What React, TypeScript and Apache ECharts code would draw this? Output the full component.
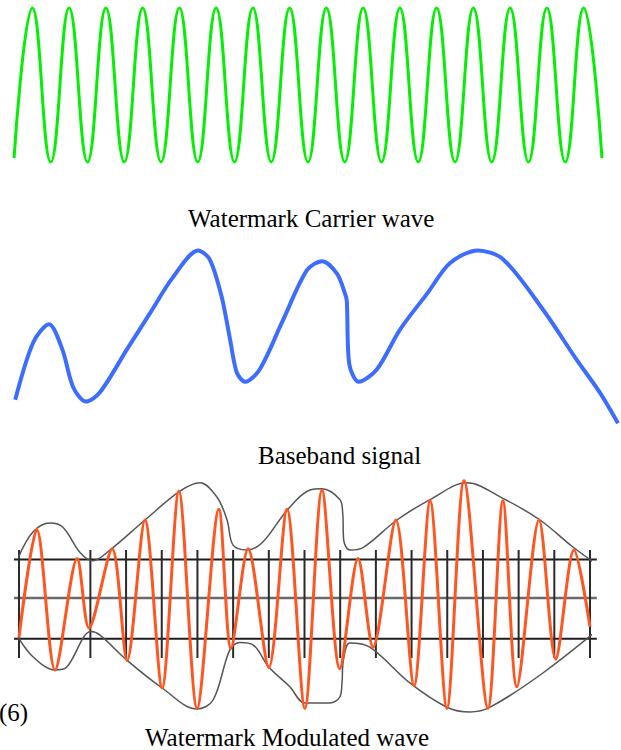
import React, { useEffect, useRef } from 'react';
import * as echarts from 'echarts';

// Carrier wave: extremes per half cycle (time in cycles, amplitude -1..1)
const carrierT = [0, 0.5, 1, 1.5, 2, 2.5, 3, 3.5, 4, 4.5, 5, 5.5, 6, 6.5, 7, 7.5, 8, 8.5, 9, 9.5, 10, 10.5, 11, 11.5, 12, 12.5, 13, 13.5, 14, 14.5, 15, 15.5, 16];
const carrierV = [-0.95, 1, -1, 1, -1, 1, -1, 1, -1, 1, -1, 1, -1, 1, -1, 1, -1, 1, -1, 1, -1, 1, -1, 1, -1, 1, -1, 1, -1, 1, -1, 1, -0.95];

// Baseband signal (time 0..100, amplitude 0..1)
const baseT = [0.2, 3.2, 5.8, 8.0, 9.8, 11.9, 14.2, 18.7, 22.5, 26.3, 30.5, 32.4, 34.4, 35.8, 36.9, 38.3, 40.7, 44.5, 48.5, 51.0, 53.5, 54.8, 55.1, 55.5, 57.1, 60.1, 63.9, 68.4, 72.2, 76.8, 81.0, 87.6, 93.2, 97.0, 100];
const baseV = [0.14, 0.46, 0.56, 0.42, 0.21, 0.13, 0.18, 0.42, 0.62, 0.82, 0.97, 0.92, 0.71, 0.47, 0.29, 0.24, 0.31, 0.58, 0.86, 0.91, 0.84, 0.73, 0.69, 0.34, 0.24, 0.31, 0.53, 0.73, 0.9, 0.97, 0.92, 0.64, 0.36, 0.18, 0.01];

// Modulated wave (time in carrier cycles, amplitude -1..1)
const modT = [0, 0.5, 1.01, 1.63, 1.96, 2.61, 3.03, 3.53, 4.01, 4.48, 4.99, 5.6, 5.94, 6.42, 7.0, 7.51, 8.01, 8.49, 8.99, 9.5, 9.92, 10.56, 11.07, 11.52, 11.99, 12.47, 13.14, 13.56, 13.95, 14.57, 15.04, 15.55, 16.0];
const modV = [-0.33, 0.57, -0.6, 0.33, -0.25, 0.41, -0.52, 0.65, -0.75, 0.89, -0.92, 0.74, -0.42, 0.41, -0.58, 0.74, -0.92, 0.9, -0.59, 0.33, -0.41, 0.65, -0.73, 0.81, -0.92, 0.98, -0.92, 0.81, -0.74, 0.65, -0.51, 0.4, -0.24];

// Envelopes
const upperT = [-0.03, 0.39, 0.87, 1.23, 1.71, 2.07, 2.55, 3.53, 4.51, 5.07, 5.55, 5.83, 6.0, 6.39, 6.81, 7.51, 8.15, 8.49, 8.99, 9.07, 9.1, 9.27, 9.64, 10.59, 11.52, 12.55, 13.56, 14.6, 15.52, 16.48];
const upperV = [0.33, 0.55, 0.625, 0.59, 0.38, 0.31, 0.4, 0.65, 0.89, 0.96, 0.84, 0.65, 0.44, 0.4, 0.46, 0.73, 0.9, 0.91, 0.82, 0.71, 0.48, 0.4, 0.42, 0.65, 0.82, 0.96, 0.83, 0.65, 0.425, 0.22];
const lowerT = [-0.03, 0.39, 1.01, 1.34, 2.02, 2.27, 3.03, 4.01, 4.99, 5.44, 5.91, 6.19, 6.56, 7.0, 7.59, 8.01, 8.71, 8.99, 9.05, 9.09, 9.27, 9.83, 10.96, 11.99, 12.64, 13.2, 14.68, 16.48];
const lowerV = [-0.325, -0.49, -0.6, -0.575, -0.28, -0.31, -0.52, -0.75, -0.925, -0.85, -0.43, -0.37, -0.39, -0.575, -0.74, -0.875, -0.875, -0.825, -0.71, -0.52, -0.375, -0.41, -0.71, -0.91, -0.95, -0.91, -0.625, -0.2];

// Reference grid of the modulated panel
const tickT = [0, 2, 3, 4, 5, 6, 7, 8, 9, 10, 11, 12, 13, 14, 15, 16];
const tickTop = 0.4;
const tickBottom = -0.5;
const levelV = [0.32, 0, -0.34];
const levelStart = -0.14;
const levelEnd = 16.19;

const labels = ['Watermark Carrier wave', 'Baseband signal', 'Watermark Modulated wave'];
const figNo = '(6)';

const zip = (a: number[], b: number[]) => a.map((v, i) => [v, b[i]]);

export default function App() {
  const ref = useRef<HTMLDivElement>(null);
  useEffect(() => {
    document.body.style.margin = '0';
    const chart = echarts.init(ref.current!, null, { renderer: 'svg' });
    const font = '"Liberation Serif", "Times New Roman", serif';
    const option: any = {
      animation: false,
      backgroundColor: '#ffffff',
      grid: [
        { left: 14, right: 19, top: 8, height: 154 },
        { left: 14, right: 3, top: 245, height: 180 },
        { left: 19, right: 31, top: 478, height: 240 },
      ],
      xAxis: [
        { gridIndex: 0, type: 'value', min: 0, max: 16, show: false },
        { gridIndex: 1, type: 'value', min: 0, max: 100, show: false },
        { gridIndex: 2, type: 'value', min: 0, max: 16, show: false },
      ],
      yAxis: [
        { gridIndex: 0, type: 'value', min: -1, max: 1, show: false },
        { gridIndex: 1, type: 'value', min: 0, max: 1, show: false },
        { gridIndex: 2, type: 'value', min: -1, max: 1, show: false },
      ],
      series: [
        {
          type: 'line', xAxisIndex: 0, yAxisIndex: 0, data: zip(carrierT, carrierV),
          smooth: 0.45, symbol: 'none', clip: false,
          lineStyle: { color: '#06ee06', width: 3 },
        },
        {
          type: 'line', xAxisIndex: 1, yAxisIndex: 1, data: zip(baseT, baseV),
          smooth: 0.3, symbol: 'none', clip: false,
          lineStyle: { color: '#3d6dff', width: 4 },
        },
        {
          type: 'custom', xAxisIndex: 2, yAxisIndex: 2, clip: false,
          data: levelV.map((v, i) => [v, i]),
          renderItem: (params: any, api: any) => {
            const v = api.value(0);
            const i = api.value(1);
            const p1 = api.coord([levelStart, v]);
            const p2 = api.coord([levelEnd, v]);
            return {
              type: 'line',
              shape: { x1: p1[0], y1: p1[1], x2: p2[0], y2: p2[1] },
              style: { stroke: i === 1 ? '#6a6a6a' : '#1e1e1e', lineWidth: i === 1 ? 2.5 : 2 },
            };
          },
        },
        {
          type: 'custom', xAxisIndex: 2, yAxisIndex: 2, clip: false,
          data: tickT.map((t) => [t]),
          renderItem: (params: any, api: any) => {
            const t = api.value(0);
            const p1 = api.coord([t, tickTop]);
            const p2 = api.coord([t, tickBottom]);
            return {
              type: 'line',
              shape: { x1: p1[0], y1: p1[1], x2: p2[0], y2: p2[1] },
              style: { stroke: '#2a2a2a', lineWidth: 2 },
            };
          },
        },
        {
          type: 'line', xAxisIndex: 2, yAxisIndex: 2, data: zip(upperT, upperV),
          smooth: 0.35, symbol: 'none', clip: false,
          lineStyle: { color: '#555555', width: 1.5 },
        },
        {
          type: 'line', xAxisIndex: 2, yAxisIndex: 2, data: zip(lowerT, lowerV),
          smooth: 0.35, symbol: 'none', clip: false,
          lineStyle: { color: '#555555', width: 1.5 },
        },
        {
          type: 'line', xAxisIndex: 2, yAxisIndex: 2, data: zip(modT, modV),
          smooth: 0.3, symbol: 'none', clip: false,
          lineStyle: { color: '#ff5520', width: 3 },
        },
      ],
      graphic: [
        { type: 'text', x: 188, y: 218, style: { text: labels[0], fontFamily: font, fontSize: 25, fill: '#000', align: 'left', verticalAlign: 'middle' } },
        { type: 'text', x: 258, y: 455, style: { text: labels[1], fontFamily: font, fontSize: 25, fill: '#000', align: 'left', verticalAlign: 'middle' } },
        { type: 'text', x: 145, y: 737, style: { text: labels[2], fontFamily: font, fontSize: 25, fill: '#000', align: 'left', verticalAlign: 'middle' } },
        { type: 'text', x: -1, y: 712, style: { text: figNo, fontFamily: font, fontSize: 25, fill: '#000', align: 'left', verticalAlign: 'middle' } },
      ],
    };
    chart.setOption(option);
    return () => chart.dispose();
  }, []);
  return <div ref={ref} style={{ width: 621, height: 750 }} />;
}
